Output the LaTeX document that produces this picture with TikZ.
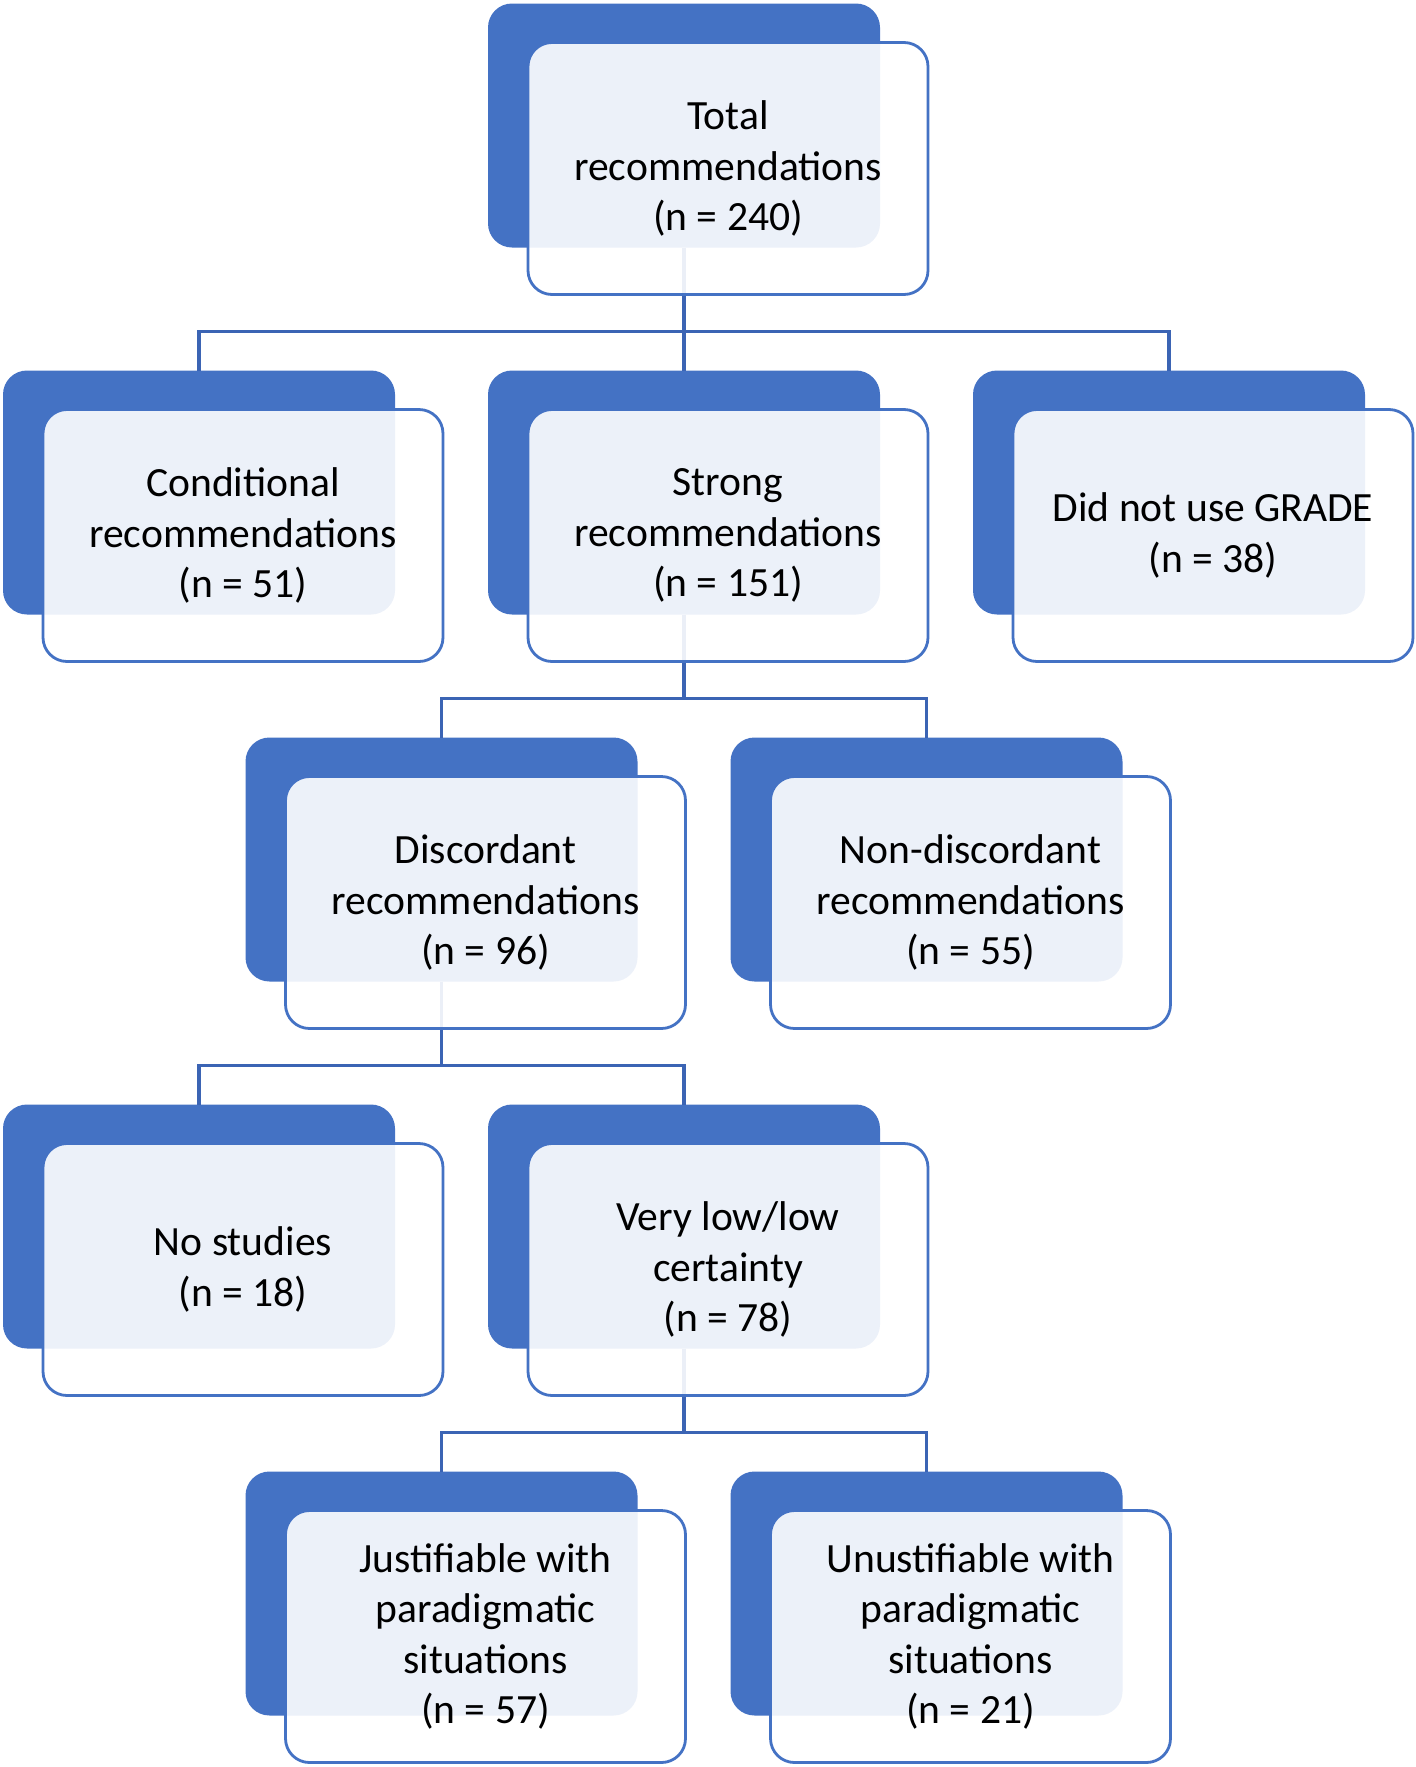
\documentclass[tikz,border=0pt]{standalone}
\usepackage{fontspec}
\setmainfont{Carlito}
\usepackage{tikz}
\usetikzlibrary{positioning}

\definecolor{boxblue}{RGB}{68,114,196}
\definecolor{lineblue}{RGB}{59,100,180}

\begin{document}
\begin{tikzpicture}[
  node distance=61.5pt,
  backbox/.style={rectangle, fill=boxblue, rounded corners=12pt, inner sep=0pt, outer sep=0pt, minimum width=196pt, minimum height=122pt},
  frontbox/.style={rectangle, draw=boxblue, line width=1.4pt, fill=white, fill opacity=0.9, text opacity=1, rounded corners=12pt, align=center, inner sep=0pt, outer sep=0pt, minimum width=200pt, minimum height=126pt, font=\fontsize{20.8}{25.2}\selectfont},
  link/.style={draw=lineblue, line width=1.6pt}
]

\useasboundingbox (0,0) rectangle (708pt,-883.5pt);

% Back boxes
\node[backbox] (total-b) at (342pt,-62.75pt) {};
\node[backbox, below=of total-b, xshift=-242.5pt] (cond-b) {};
\node[backbox, below=of total-b] (strong-b) {};
\node[backbox, below=of total-b, xshift=242.5pt] (nogr-b) {};
\node[backbox, below=of strong-b, xshift=-121.25pt] (disc-b) {};
\node[backbox, below=of strong-b, xshift=121.25pt] (nondisc-b) {};
\node[backbox, below=of disc-b, xshift=-121.25pt] (nostud-b) {};
\node[backbox, below=of disc-b, xshift=121.25pt] (lowcert-b) {};
\node[backbox, below=of lowcert-b, xshift=-121.25pt] (justif-b) {};
\node[backbox, below=of lowcert-b, xshift=121.25pt] (unjust-b) {};

% Connectors
\draw[link] (total-b.south) -- ++(0,-42pt) -| (cond-b.north);
\draw[link] (total-b.south) -- (strong-b.north);
\draw[link] (total-b.south) -- ++(0,-42pt) -| (nogr-b.north);
\draw[link] (strong-b.south) -- ++(0,-42pt) -| (disc-b.north);
\draw[link] (strong-b.south) -- ++(0,-42pt) -| (nondisc-b.north);
\draw[link] (disc-b.south) -- ++(0,-42pt) -| (nostud-b.north);
\draw[link] (disc-b.south) -- ++(0,-42pt) -| (lowcert-b.north);
\draw[link] (lowcert-b.south) -- ++(0,-42pt) -| (justif-b.north);
\draw[link] (lowcert-b.south) -- ++(0,-42pt) -| (unjust-b.north);

% Front boxes
\node[frontbox] (total) at ([xshift=22pt, yshift=-21.5pt] total-b.center) {Total\\recommendations\\(n = 240)};
\node[frontbox] (cond) at ([xshift=22pt, yshift=-21.5pt] cond-b.center) {Conditional\\recommendations\\(n = 51)};
\node[frontbox] (strong) at ([xshift=22pt, yshift=-21.5pt] strong-b.center) {Strong\\recommendations\\(n = 151)};
\node[frontbox] (nogr) at ([xshift=22pt, yshift=-21.5pt] nogr-b.center) {Did not use GRADE\\(n = 38)};
\node[frontbox] (disc) at ([xshift=22pt, yshift=-21.5pt] disc-b.center) {Discordant\\recommendations\\(n = 96)};
\node[frontbox] (nondisc) at ([xshift=22pt, yshift=-21.5pt] nondisc-b.center) {Non-discordant\\recommendations\\(n = 55)};
\node[frontbox] (nostud) at ([xshift=22pt, yshift=-21.5pt] nostud-b.center) {No studies\\(n = 18)};
\node[frontbox] (lowcert) at ([xshift=22pt, yshift=-21.5pt] lowcert-b.center) {Very low/low\\certainty\\(n = 78)};
\node[frontbox] (justif) at ([xshift=22pt, yshift=-21.5pt] justif-b.center) {Justifiable with\\paradigmatic\\situations\\(n = 57)};
\node[frontbox] (unjust) at ([xshift=22pt, yshift=-21.5pt] unjust-b.center) {Unustifiable with\\paradigmatic\\situations\\(n = 21)};

\end{tikzpicture}
\end{document}
